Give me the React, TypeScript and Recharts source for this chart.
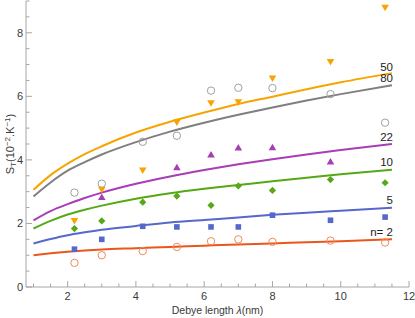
import React from "react";
import { ComposedChart, Line, Scatter, XAxis, YAxis, LabelList } from "recharts";

// Fitted curves
const curveX = [1, 1.5, 2, 2.5, 3, 4, 5, 6, 7, 8, 9, 10, 11.5];
const fit50 = [3.06, 3.52, 3.88, 4.18, 4.43, 4.86, 5.2, 5.49, 5.76, 5.99, 6.22, 6.44, 6.73];
const fit80 = [2.85, 3.29, 3.66, 3.93, 4.17, 4.56, 4.89, 5.17, 5.42, 5.65, 5.87, 6.07, 6.35];
const fit22 = [2.1, 2.39, 2.61, 2.8, 2.97, 3.25, 3.48, 3.68, 3.86, 4.02, 4.17, 4.31, 4.5];
const fit10 = [1.84, 2.08, 2.28, 2.43, 2.56, 2.78, 2.95, 3.09, 3.21, 3.33, 3.44, 3.55, 3.69];
const fit5 = [1.37, 1.51, 1.63, 1.72, 1.8, 1.92, 2.03, 2.11, 2.19, 2.27, 2.34, 2.4, 2.49];
const fit2 = [1.0, 1.06, 1.11, 1.15, 1.18, 1.22, 1.26, 1.3, 1.34, 1.37, 1.41, 1.44, 1.5];

// Measured points
const pointX = [2.2, 3.0, 4.2, 5.2, 6.2, 7.0, 8.0, 9.7, 11.3];
const pts50 = [2.08, 3.06, 3.67, 5.18, 5.78, 5.81, 6.56, 7.08, 8.79];
const pts80 = [2.97, 3.25, 4.57, 4.76, 6.18, 6.27, 6.26, 6.07, 5.17];
const pts22 = [null, 2.83, null, 3.77, 4.17, 4.39, 4.4, 3.95, null];
const pts10 = [1.84, 2.08, 2.67, 2.86, 2.57, 3.18, 3.04, 3.38, 3.28];
const pts5 = [1.19, 1.5, 1.91, 1.89, 1.89, 1.89, 2.26, 2.1, 2.2];
const pts2 = [0.76, 1.0, 1.13, 1.26, 1.44, 1.5, 1.42, 1.46, 1.4];

const xTicks = [1, 1.5, 2, 2.5, 3, 3.5, 4, 4.5, 5, 5.5, 6, 6.5, 7, 7.5, 8, 8.5, 9, 9.5, 10, 10.5, 11, 11.5, 12];
const yTicks = [0, 0.5, 1, 1.5, 2, 2.5, 3, 3.5, 4, 4.5, 5, 5.5, 6, 6.5, 7, 7.5, 8, 8.5, 9];

const FONT = "'Liberation Sans', Arial, sans-serif";
const AXIS = "#a6a6a6";
const TXT = "#3a3a3a";

const C50 = "#f7a400";
const C80 = "#7f7f7f";
const C22 = "#a83db6";
const C10 = "#56a815";
const C5 = "#5668cc";
const C2 = "#e9571b";

const mkCurve = (ys: number[], label: string) =>
  curveX.map((x, i) => ({ x, y: ys[i], label: i === curveX.length - 1 ? label : "" }));
const mkPts = (ys: (number | null)[]) =>
  pointX.map((x, i) => ({ x, y: ys[i] })).filter((p) => p.y !== null);

const isMajor = (v: number) => Math.abs(v % 2) < 1e-9;

const XTickBottom = (props: any) => {
  const { x, y, payload } = props;
  const major = isMajor(payload.value);
  return (
    <g>
      <line x1={x} x2={x} y1={y} y2={y - (major ? 6 : 3.5)} stroke={AXIS} strokeWidth={1} />
      {major && (
        <text x={x} y={y + 12.5} textAnchor="middle" fontSize={11} fontFamily={FONT} fill={TXT}>
          {payload.value}
        </text>
      )}
    </g>
  );
};
const XTickTop = (props: any) => {
  const { x, y, payload } = props;
  const major = isMajor(payload.value);
  return <line x1={x} x2={x} y1={y} y2={y + (major ? 6 : 3.5)} stroke={AXIS} strokeWidth={1} />;
};
const YTickLeft = (props: any) => {
  const { x, y, payload } = props;
  const major = isMajor(payload.value) && payload.value <= 8;
  return (
    <g>
      <line x1={x} x2={x + (major ? 6 : 3.5)} y1={y} y2={y} stroke={AXIS} strokeWidth={1} />
      {major && (
        <text x={x - 3} y={y + 4} textAnchor="end" fontSize={11} fontFamily={FONT} fill={TXT}>
          {payload.value}
        </text>
      )}
    </g>
  );
};
const YTickRight = (props: any) => {
  const { x, y, payload } = props;
  const major = isMajor(payload.value) && payload.value <= 8;
  return <line x1={x} x2={x - (major ? 6 : 3.5)} y1={y} y2={y} stroke={AXIS} strokeWidth={1} />;
};

const EndLabel = (props: any) => {
  const { x, y, value } = props;
  if (!value) return null;
  const dy = value === "50" ? -2 : -3.5;
  return (
    <text x={x + 1} y={y + dy} textAnchor="end" fontSize={11.5} fontFamily={FONT} fill="#222">
      {value}
    </text>
  );
};

const TriDown = (color: string) => (p: any) => {
  const { cx, cy } = p;
  return <path d={`M${cx - 3.8},${cy - 3} L${cx + 3.8},${cy - 3} L${cx},${cy + 3.5} Z`} fill={color} />;
};
const TriUp = (color: string) => (p: any) => {
  const { cx, cy } = p;
  return <path d={`M${cx - 3.8},${cy + 3} L${cx + 3.8},${cy + 3} L${cx},${cy - 3.5} Z`} fill={color} />;
};
const OpenCircle = (color: string) => (p: any) => {
  const { cx, cy } = p;
  return <circle cx={cx} cy={cy} r={3.7} fill="none" stroke={color} strokeWidth={1} />;
};
const Diamond = (color: string) => (p: any) => {
  const { cx, cy } = p;
  return <path d={`M${cx},${cy - 3.6} L${cx + 3.6},${cy} L${cx},${cy + 3.6} L${cx - 3.6},${cy} Z`} fill={color} />;
};
const Square = (color: string) => (p: any) => {
  const { cx, cy } = p;
  return <rect x={cx - 2.8} y={cy - 2.8} width={5.6} height={5.6} fill={color} />;
};

const YLabel = () => (
  <text
    x={13.5}
    y={144}
    transform="rotate(-90, 13.5, 144)"
    textAnchor="middle"
    fontSize={11}
    fontFamily={FONT}
    fill={TXT}
  >
    <tspan>S</tspan>
    <tspan dy={2.5} fontSize={8}>T</tspan>
    <tspan dy={-2.5}>(10</tspan>
    <tspan dy={-4} fontSize={8}>−2</tspan>
    <tspan dy={4}>.K</tspan>
    <tspan dy={-4} fontSize={8}>−1</tspan>
    <tspan dy={4}>)</tspan>
  </text>
);

const XLabel = () => (
  <text x={217.5} y={314} textAnchor="middle" fontSize={10.5} fontFamily={FONT} fill={TXT}>
    Debye length <tspan fontStyle="italic">λ</tspan>(nm)
  </text>
);

const curves = [
  { ys: fit2, c: C2, l: "n= 2" },
  { ys: fit5, c: C5, l: "5" },
  { ys: fit10, c: C10, l: "10" },
  { ys: fit22, c: C22, l: "22" },
  { ys: fit80, c: C80, l: "80" },
  { ys: fit50, c: C50, l: "50" },
];

export default function App() {
  return (
    <div style={{ position: "absolute", left: 0, top: 0, background: "#fff" }}>
      <ComposedChart width={415} height={318} margin={{ top: 1, right: 6, left: 0, bottom: 0 }}>
        <XAxis
          type="number"
          dataKey="x"
          domain={[0.78, 12]}
          ticks={xTicks}
          allowDataOverflow
          height={31}
          stroke={AXIS}
          tickSize={0}
          tickMargin={0}
          tickLine={false}
          tick={<XTickBottom />}
          interval={0}
          label={{ content: () => <XLabel /> }}
        />
        <XAxis
          xAxisId="top"
          orientation="top"
          type="number"
          dataKey="x"
          domain={[0.78, 12]}
          ticks={xTicks}
          allowDataOverflow
          height={0}
          stroke={AXIS}
          tickSize={0}
          tickMargin={0}
          tickLine={false}
          tick={<XTickTop />}
          interval={0}
        />
        <YAxis
          type="number"
          domain={[0, 9]}
          ticks={yTicks}
          allowDataOverflow
          width={26}
          stroke={AXIS}
          tickSize={0}
          tickMargin={0}
          tickLine={false}
          tick={<YTickLeft />}
          interval={0}
          label={{ content: () => <YLabel /> }}
        />
        <YAxis
          yAxisId="right"
          orientation="right"
          type="number"
          domain={[0, 9]}
          ticks={yTicks}
          allowDataOverflow
          width={0}
          stroke={AXIS}
          tickSize={0}
          tickMargin={0}
          tickLine={false}
          tick={<YTickRight />}
          interval={0}
        />
        {curves.map((cv) => (
          <Line
            key={cv.l}
            data={mkCurve(cv.ys, cv.l)}
            dataKey="y"
            type="monotone"
            stroke={cv.c}
            strokeWidth={2}
            dot={false}
            activeDot={false}
            isAnimationActive={false}
          >
            <LabelList dataKey="label" content={<EndLabel />} />
          </Line>
        ))}
        <Scatter data={mkPts(pts2)} dataKey="y" shape={OpenCircle("#f08a5d")} isAnimationActive={false} />
        <Scatter data={mkPts(pts5)} dataKey="y" shape={Square(C5)} isAnimationActive={false} />
        <Scatter data={mkPts(pts10)} dataKey="y" shape={Diamond(C10)} isAnimationActive={false} />
        <Scatter data={mkPts(pts22)} dataKey="y" shape={TriUp(C22)} isAnimationActive={false} />
        <Scatter data={mkPts(pts80)} dataKey="y" shape={OpenCircle("#a0a0a0")} isAnimationActive={false} />
        <Scatter data={mkPts(pts50)} dataKey="y" shape={TriDown(C50)} isAnimationActive={false} />
      </ComposedChart>
    </div>
  );
}
